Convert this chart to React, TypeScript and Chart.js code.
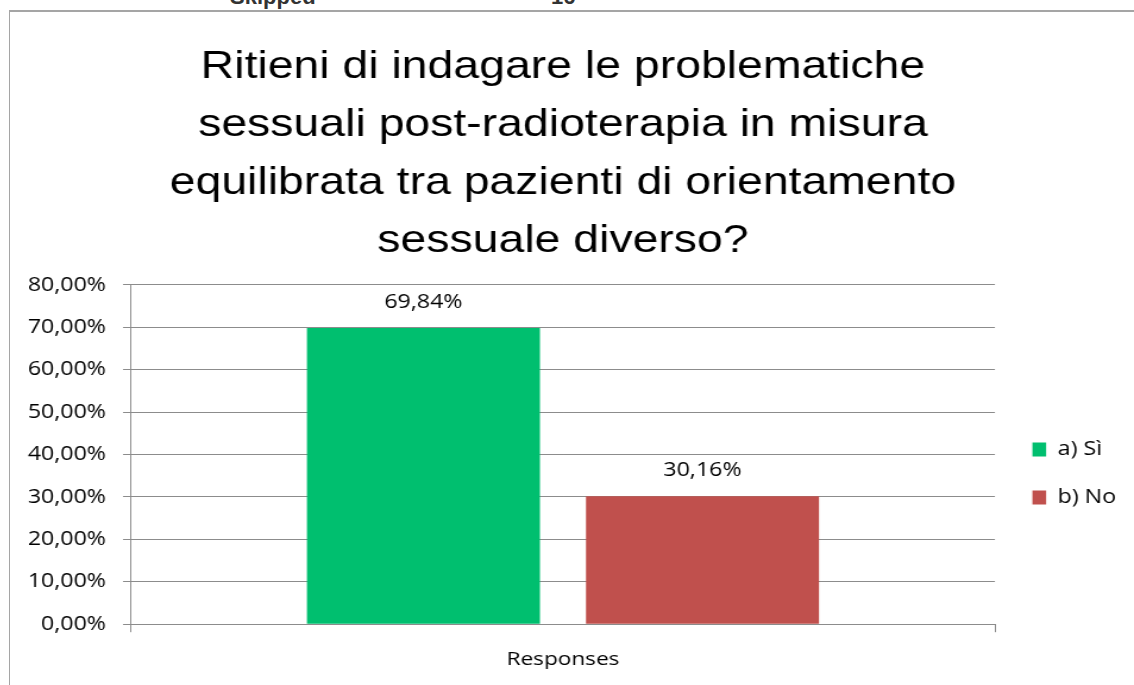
import React, { useEffect, useRef } from "react";
import { Chart, registerables } from "chart.js";

Chart.register(...registerables);

// ---- data ----
const categories = ["Responses"];
const seriesNames = ["a) Sì", "b) No"];
const siValues = [69.84];
const noValues = [30.16];
const seriesColors = ["#00BF6F", "#C0504D"];
const yTickLabels = ["0,00%", "10,00%", "20,00%", "30,00%", "40,00%", "50,00%", "60,00%", "70,00%", "80,00%"];
const titleLines = [
  "Ritieni di indagare le problematiche",
  "sessuali post-radioterapia in misura",
  "equilibrata tra pazienti di orientamento",
  "sessuale diverso?",
];
const headerLabel = "Skipped";
const headerValue = "16";

const fmtPct = (v: number) => v.toFixed(2).replace(".", ",") + "%";

// horizontal stretch of the original picture
const CSS_W = 1124;
const CSS_H = 675;
const INT_W = 945;

const FONT = "'Open Sans', sans-serif";
const GRID = "#8c8c8c";

const valueLabelPlugin = {
  id: "valueLabels",
  afterDatasetsDraw(chart: any) {
    const ctx = chart.ctx;
    ctx.save();
    ctx.font = `19.5px ${FONT}`;
    ctx.fillStyle = "#000";
    ctx.textAlign = "center";
    ctx.textBaseline = "middle";
    chart.data.datasets.forEach((ds: any, di: number) => {
      const meta = chart.getDatasetMeta(di);
      meta.data.forEach((el: any, i: number) => {
        ctx.fillText(fmtPct(ds.data[i]), el.x, el.y - 26);
      });
    });
    ctx.restore();
  },
};

const legendShiftPlugin = {
  id: "legendShift",
  afterLayout(chart: any) {
    const l = chart.legend;
    if (l) {
      l.left += 3;
      l.right += 3;
      l.top += 19;
      l.bottom += 19;
    }
  },
};

function BarChart() {
  const ref = useRef<HTMLCanvasElement | null>(null);
  useEffect(() => {
    if (!ref.current) return;
    const chart = new Chart(ref.current, {
      type: "bar",
      data: {
        labels: categories,
        datasets: [
          { label: seriesNames[0], data: siValues, backgroundColor: seriesColors[0], borderWidth: 0 },
          { label: seriesNames[1], data: noValues, backgroundColor: seriesColors[1], borderWidth: 0 },
        ],
      },
      options: {
        responsive: false,
        animation: false,
        devicePixelRatio: 1,
        categoryPercentage: 0.646,
        barPercentage: 0.835,
        layout: { padding: { left: 0, right: 8, top: 0, bottom: 0 } },
        plugins: {
          title: {
            display: true,
            text: titleLines,
            fullSize: false,
            color: "#000",
            font: { family: "'Liberation Sans', Arial, sans-serif", size: 39, weight: "normal", lineHeight: 1.487 },
            padding: { top: 26, bottom: 15 },
          },
          legend: {
            display: true,
            position: "right",
            fullSize: false,
            align: "center",
            labels: {
              font: { family: FONT, size: 19.5 },
              color: "#000",
              boxWidth: 11.5,
              boxHeight: 14,
              padding: 28.5,
            },
          },
          tooltip: { enabled: false },
        },
        scales: {
          x: {
            grid: { display: true, drawOnChartArea: false, drawTicks: true, tickLength: 8, color: GRID, offset: true },
            border: { display: true, color: GRID, width: 1 },
            ticks: { font: { family: FONT, size: 19 }, color: "#000", padding: 16 },
          },
          y: {
            min: 0,
            max: 80,
            ticks: {
              stepSize: 10,
              font: { family: FONT, size: 19.5 },
              color: "#000",
              padding: 14.3,
              callback: (_v: any, i: number) => yTickLabels[i],
            },
            grid: { color: GRID, lineWidth: 1, tickLength: 6.7, drawTicks: true },
            border: { display: true, color: GRID, width: 1 },
            afterFit: (s: any) => {
              s.width = 101.7;
            },
          },
        },
      },
      plugins: [valueLabelPlugin, legendShiftPlugin],
    } as any);
    return () => chart.destroy();
  }, []);

  return (
    <canvas
      ref={ref}
      width={INT_W}
      height={CSS_H}
      style={{ position: "absolute", left: 10, top: 12, width: CSS_W + "px", height: CSS_H + "px" }}
    />
  );
}

export default function App() {
  const headerFont = "bold 22px 'Liberation Sans', Arial, sans-serif";
  return (
    <div
      style={{
        position: "fixed",
        left: 0,
        top: 0,
        width: 1134,
        height: 685,
        overflow: "hidden",
        background: "#fff",
      }}
    >
      <span
        style={{
          position: "absolute",
          left: 230,
          top: -14,
          font: headerFont,
          lineHeight: "22px",
          color: "#333",
          whiteSpace: "nowrap",
        }}
      >
        {headerLabel}
      </span>
      <span
        style={{
          position: "absolute",
          left: 551,
          top: -14,
          font: headerFont,
          lineHeight: "22px",
          color: "#333",
          whiteSpace: "nowrap",
        }}
      >
        {headerValue}
      </span>
      <div
        style={{
          position: "absolute",
          left: 9,
          top: 10,
          width: 1300,
          height: 900,
          borderTop: "2px solid #a5a5a5",
          borderLeft: "1px solid #a5a5a5",
        }}
      />
      <BarChart />
    </div>
  );
}
